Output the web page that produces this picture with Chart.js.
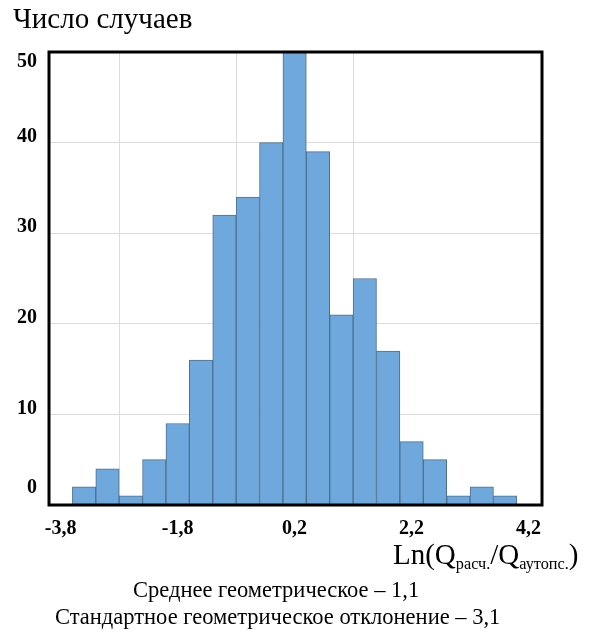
<!DOCTYPE html>
<html>
<head>
<meta charset="utf-8">
<script src="https://cdn.jsdelivr.net/npm/chart.js@4.4.0/dist/chart.umd.min.js"></script>
<style>
html,body{margin:0;padding:0;background:#fff;}
#wrap{position:relative;width:609px;height:637px;overflow:hidden;font-family:'Liberation Serif','Times New Roman',serif;color:#000;}
#c{position:absolute;left:0;top:0;}
.t{position:absolute;white-space:nowrap;line-height:1;}
#xlab{left:393px;top:540px;font-size:29px;}
#xlab sub{font-size:0.56em;vertical-align:baseline;position:relative;top:0.32em;}
#n1{left:133px;top:579px;font-size:22.5px;}
#n2{left:55px;top:606px;font-size:22.5px;}
</style>
</head>
<body>
<div id="wrap">
<canvas id="c" width="609" height="637"></canvas>
<div class="t" id="xlab">Ln(Q<sub>расч.</sub>/Q<sub>аутопс.</sub>)</div>
<div class="t" id="n1">Среднее геометрическое – 1,1</div>
<div class="t" id="n2">Стандартное геометрическое отклонение – 3,1</div>
</div>
<script>
// Histogram bins (lower edge of each bin) and counts
const binLower = [-3.6,-3.2,-2.8,-2.4,-2.0,-1.6,-1.2,-0.8,-0.4,0.0,0.4,0.8,1.2,1.6,2.0,2.4,2.8,3.2,3.6];
const binWidth = 0.4;
const counts = [2,4,1,5,9,16,32,34,40,50,39,21,25,17,7,5,1,2,1];
const xTicks = [-3.8,-1.8,0.2,2.2,4.2];
const yTicks = [0,10,20,30,40,50];
const xMin = -4.0, xMax = 4.43;
const yTitle = 'Число случаев';

const points = binLower.map((lo,i)=>({x: lo + binWidth/2, y: counts[i]}));
const serif = "'Liberation Serif','Times New Roman',serif";
const gridCol = '#dcdcdc';

const frame = {
  id:'frame',
  afterDatasetsDraw(chart){
    const a = chart.chartArea, ctx = chart.ctx;
    ctx.save();
    ctx.strokeStyle = '#000';
    ctx.lineWidth = 3;
    ctx.strokeRect(a.left, a.top, a.right - a.left, a.bottom - a.top);
    ctx.restore();
  }
};
const yLabelShift = {
  id:'yLabelShift',
  beforeDraw(chart){
    const s = chart.scales.y;
    const items = s.getLabelItems();
    if (items._shifted) return;
    items.forEach((it,i)=>{
      const v = s.ticks[i].value;
      const d = v === yTicks[0] ? -17 : (v === yTicks[yTicks.length-1] ? 10 : -6);
      it.options.translation[1] += d;
    });
    items._shifted = true;
  }
};

new Chart(document.getElementById('c'), {
  type:'bar',
  data:{ datasets:[{
    data: points,
    backgroundColor:'#6fa8dc',
    borderColor:'#4f6f8f',
    borderWidth:1,
    barPercentage:1,
    categoryPercentage:1
  }]},
  options:{
    responsive:false,
    animation:false,
    layout:{padding:{left:13,right:67,top:0,bottom:0}},
    plugins:{
      legend:{display:false},
      tooltip:{enabled:false},
      title:{display:true,text:yTitle,align:'start',color:'#000',
        font:{family:serif,size:29,weight:'normal',lineHeight:1.2},
        padding:{top:3,bottom:14.2}}
    },
    scales:{
      x:{
        type:'linear', min:xMin, max:xMax, offset:false,
        afterBuildTicks(s){ s.ticks = xTicks.map(v=>({value:v})); },
        afterFit(s){ s.height = 132; },
        ticks:{color:'#000',font:{family:serif,size:20,weight:'bold'},padding:12,maxRotation:0,autoSkip:false,
          callback:v=>v.toFixed(1).replace('.',',')},
        grid:{drawTicks:false,color:c=>(c.index===0||c.index===xTicks.length-1)?'rgba(0,0,0,0)':gridCol},
        border:{display:false}
      },
      y:{
        min:yTicks[0], max:yTicks[yTicks.length-1],
        afterBuildTicks(s){ s.ticks = yTicks.map(v=>({value:v})); },
        afterFit(s){ s.width = 36; },
        ticks:{color:'#000',font:{family:serif,size:20,weight:'bold'},padding:12,callback:v=>String(v)},
        grid:{drawTicks:false,color:gridCol},
        border:{display:false}
      }
    }
  },
  plugins:[frame,yLabelShift]
});
</script>
</body>
</html>
